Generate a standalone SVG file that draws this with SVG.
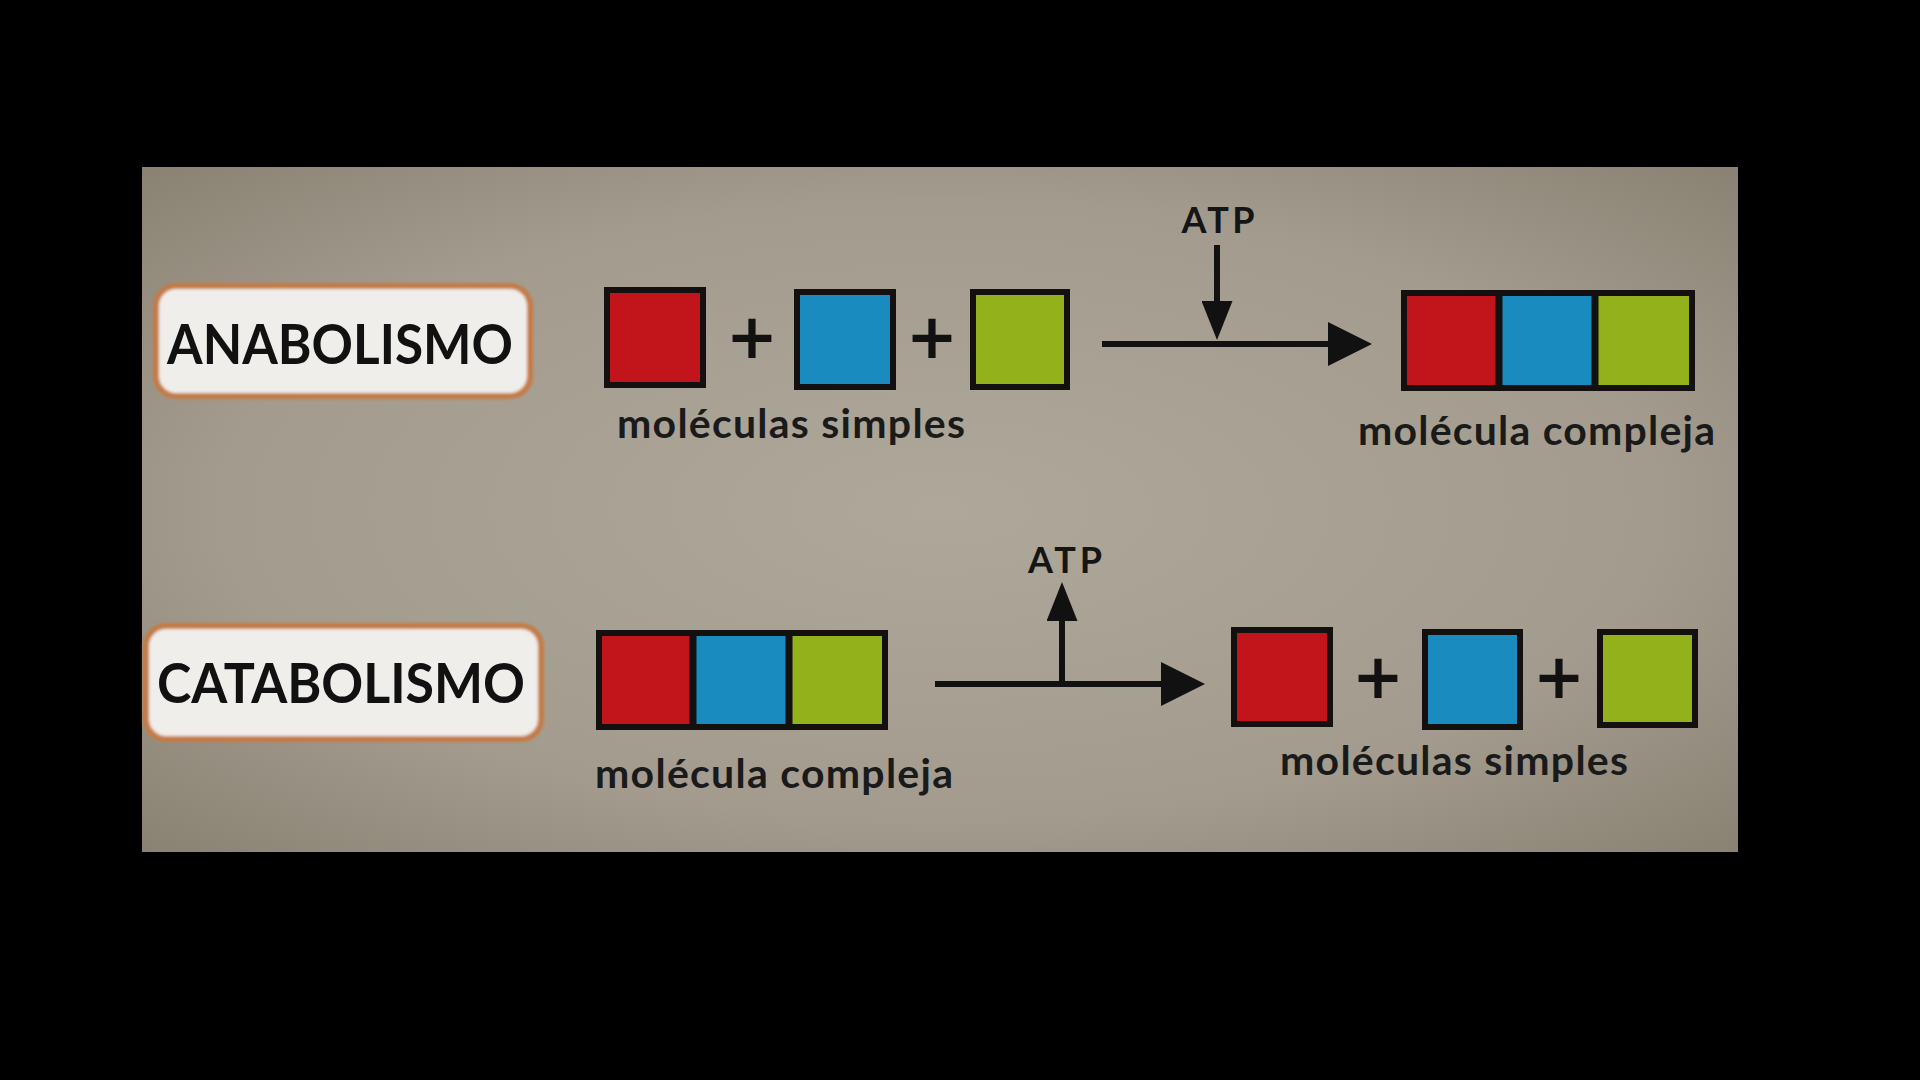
<svg xmlns="http://www.w3.org/2000/svg" width="1920" height="1080" viewBox="0 0 1920 1080">
  <defs>
    <radialGradient id="bg" cx="0.5" cy="0.5" r="0.75">
      <stop offset="0" stop-color="#aea89a"/>
      <stop offset="0.6" stop-color="#a39c8e"/>
      <stop offset="1" stop-color="#857d6e"/>
    </radialGradient>
    <filter id="soft" x="-5%" y="-20%" width="110%" height="140%">
      <feGaussianBlur stdDeviation="1.5"/>
    </filter>
    <marker id="headL" markerUnits="userSpaceOnUse" markerWidth="44" markerHeight="44" refX="36" refY="22" orient="auto">
      <path d="M0,0 L44,22 L0,44 z" fill="#111"/>
    </marker>
    <marker id="headS" markerUnits="userSpaceOnUse" markerWidth="39" markerHeight="31" refX="32" refY="15.5" orient="auto">
      <path d="M0,0 L39,15.5 L0,31 z" fill="#111"/>
    </marker>
    <style>
      .lbl { fill: #f0eeea; stroke: #c47a45; stroke-width: 6; }
      .title { font-family: Lato, "Open Sans", "Liberation Sans", sans-serif; font-weight: 700; font-size: 55px; fill: #111; }
      .cap { font-family: Lato, "Open Sans", "Liberation Sans", sans-serif; font-weight: 700; font-size: 41px; fill: #1a1a1a; }
      .atp { font-family: Lato, "Open Sans", "Liberation Sans", sans-serif; font-weight: 700; font-size: 36px; fill: #151515; text-anchor: middle; }
      .plus { font-family: "DejaVu Sans", "Liberation Sans", sans-serif; font-weight: 700; font-size: 62px; fill: #111; text-anchor: middle; }
      .red { fill: #c1151b; }
      .blue { fill: #1a8bbf; }
      .green { fill: #93b11a; }
      .sq { stroke: #141010; stroke-width: 6; }
      .div { stroke: #111; stroke-width: 7; }
      .conn { stroke: #111; stroke-width: 6; fill: none; }
    </style>
  </defs>

  <rect x="0" y="0" width="1920" height="1080" fill="#000"/>
  <rect id="panel" x="142" y="167" width="1596" height="685" fill="url(#bg)"/>

  <!-- ANABOLISMO row -->
  <g id="label-anabolismo">
    <rect class="lbl" x="156" y="286" width="374" height="110" rx="20" filter="url(#soft)"/>
    <text class="title" x="167" y="364" textLength="346" lengthAdjust="spacingAndGlyphs">ANABOLISMO</text>
  </g>

  <g id="ana-simple-red"><rect class="sq red" x="607" y="290" width="96" height="95"/></g>
  <g id="ana-plus-1"><text class="plus" x="752" y="358">+</text></g>
  <g id="ana-simple-blue"><rect class="sq blue" x="797" y="292" width="96" height="95"/></g>
  <g id="ana-plus-2"><text class="plus" x="932" y="358">+</text></g>
  <g id="ana-simple-green"><rect class="sq green" x="973" y="292" width="94" height="95"/></g>
  <g id="ana-simple-label"><text class="cap" x="617" y="438" textLength="348">moléculas simples</text></g>

  <g id="ana-atp"><text class="atp" x="1218" y="233" textLength="73">ATP</text></g>

  <g id="ana-complex">
    <rect class="red" x="1404" y="293" width="95" height="95"/>
    <rect class="blue" x="1499" y="293" width="96" height="95"/>
    <rect class="green" x="1595" y="293" width="97" height="95"/>
    <line class="div" x1="1499" y1="293" x2="1499" y2="388"/>
    <line class="div" x1="1595" y1="293" x2="1595" y2="388"/>
    <rect x="1404" y="293" width="288" height="95" fill="none" stroke="#141010" stroke-width="6"/>
  </g>
  <g id="ana-complex-label"><text class="cap" x="1358" y="445" textLength="357">molécula compleja</text></g>

  <!-- CATABOLISMO row -->
  <g id="label-catabolismo">
    <rect class="lbl" x="146" y="626" width="395" height="113" rx="20" filter="url(#soft)"/>
    <text class="title" x="157" y="703" textLength="368" lengthAdjust="spacingAndGlyphs">CATABOLISMO</text>
  </g>

  <g id="cat-complex">
    <rect class="red" x="599" y="633" width="94" height="94"/>
    <rect class="blue" x="693" y="633" width="96" height="94"/>
    <rect class="green" x="789" y="633" width="96" height="94"/>
    <line class="div" x1="693" y1="633" x2="693" y2="727"/>
    <line class="div" x1="789" y1="633" x2="789" y2="727"/>
    <rect x="599" y="633" width="286" height="94" fill="none" stroke="#141010" stroke-width="6"/>
  </g>
  <g id="cat-complex-label"><text class="cap" x="595" y="788" textLength="358">molécula compleja</text></g>

  <g id="cat-atp"><text class="atp" x="1065" y="573" textLength="74">ATP</text></g>

  <g id="cat-simple-red"><rect class="sq red" x="1234" y="630" width="96" height="94"/></g>
  <g id="cat-plus-1"><text class="plus" x="1378" y="698">+</text></g>
  <g id="cat-simple-blue"><rect class="sq blue" x="1425" y="632" width="95" height="95"/></g>
  <g id="cat-plus-2"><text class="plus" x="1559" y="698">+</text></g>
  <g id="cat-simple-green"><rect class="sq green" x="1600" y="632" width="95" height="93"/></g>
  <g id="cat-simple-label"><text class="cap" x="1280" y="775" textLength="348">moléculas simples</text></g>

  <!-- connectors -->
  <g id="connectors">
    <line class="conn" x1="1102" y1="344" x2="1364" y2="344" marker-end="url(#headL)"/>
    <line class="conn" x1="1217" y1="245" x2="1217" y2="333" marker-end="url(#headS)"/>
    <line class="conn" x1="935" y1="684" x2="1197" y2="684" marker-end="url(#headL)"/>
    <line class="conn" x1="1062" y1="684" x2="1062" y2="589" marker-end="url(#headS)"/>
  </g>
</svg>
